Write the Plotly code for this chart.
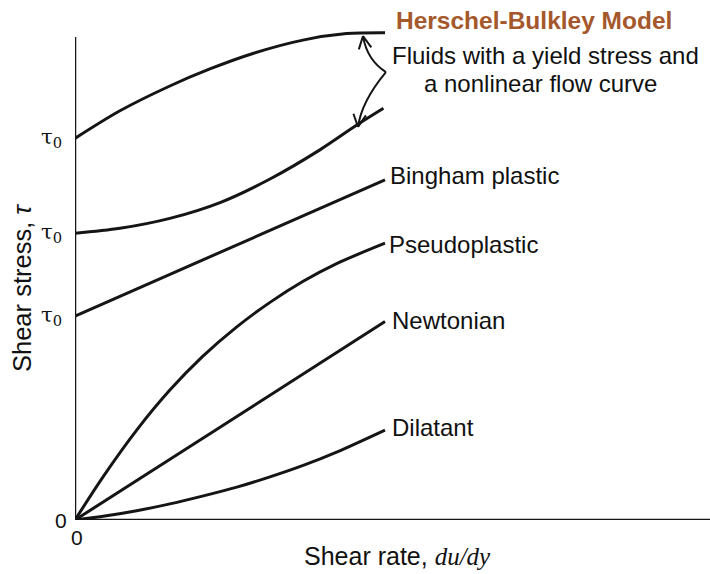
import numpy as np
import plotly.graph_objects as go

# ---- data (arbitrary units: shear rate on x, shear stress on y) ----
hb_upper_x = [0, 1.45, 3.06, 4.35, 5.74, 7.35, 8.76, 10.0]
hb_upper_y = [12.31, 13.20, 14.00, 14.55, 15.05, 15.48, 15.69, 15.72]

hb_lower_x = [0, 1.45, 3.06, 4.68, 6.29, 7.90, 9.09, 9.95]
hb_lower_y = [9.25, 9.41, 9.73, 10.24, 11.00, 11.94, 12.74, 13.28]

bingham_x = [0, 10]
bingham_y = [6.58, 10.97]

pseudo_x = [0, 0.91, 1.99, 3.06, 4.11, 5.22, 6.29, 7.36, 8.44, 10.0]
pseudo_y = [0, 1.40, 2.90, 4.19, 5.27, 6.23, 7.02, 7.70, 8.27, 8.93]

newton_x = [0, 10]
newton_y = [0, 6.40]

dilatant_x = [0, 0.91, 1.99, 3.06, 4.11, 5.22, 6.29, 7.36, 8.44, 10.0]
dilatant_y = [0, 0.12, 0.30, 0.52, 0.77, 1.06, 1.39, 1.76, 2.19, 2.90]

curve_labels = ["Bingham plastic", "Pseudoplastic", "Newtonian", "Dilatant"]
label_x = [10.1, 10.05, 10.15, 10.15]
label_y = [11.1, 8.9, 6.45, 3.0]

tau0_y = [12.31, 9.25, 6.58]

X_MAX = 635 / 31
Y_MAX = 520 / 31
Y_AXIS_TOP = 15.58

# arrow bracket (apex, control, tip) in data units
apex = (10.03, 14.45)
arm_up = ((9.42, 14.84), (9.29, 15.61))
arm_dn = ((9.24, 13.50), (9.13, 12.68))

LINE = "#151515"
fig = go.Figure()

def curve(x, y, shape="spline"):
    fig.add_trace(go.Scatter(x=x, y=y, mode="lines",
                             line=dict(color=LINE, width=3, shape=shape, smoothing=0.9),
                             hoverinfo="skip", showlegend=False))

curve(hb_upper_x, hb_upper_y)
curve(hb_lower_x, hb_lower_y)
curve(bingham_x, bingham_y, "linear")
curve(pseudo_x, pseudo_y)
curve(newton_x, newton_y, "linear")
curve(dilatant_x, dilatant_y)

shapes = [
    dict(type="line", x0=0, y0=0, x1=0, y1=Y_AXIS_TOP, line=dict(color=LINE, width=2.5)),
    dict(type="line", x0=0, y0=0, x1=X_MAX, y1=0, line=dict(color=LINE, width=2.5)),
]

def arm(p0, c, p1):
    path = f"M {p0[0]},{p0[1]} Q {c[0]},{c[1]} {p1[0]},{p1[1]}"
    shapes.append(dict(type="path", path=path, line=dict(color=LINE, width=2)))
    d = np.array([p1[0] - c[0], p1[1] - c[1]])
    d = d / np.linalg.norm(d)
    L = 0.45
    for ang in (np.radians(27), -np.radians(27)):
        rot = np.array([[np.cos(ang), -np.sin(ang)], [np.sin(ang), np.cos(ang)]])
        b = -rot @ d * L
        shapes.append(dict(type="line", x0=p1[0], y0=p1[1], x1=p1[0] + b[0], y1=p1[1] + b[1],
                           line=dict(color=LINE, width=2)))

arm(apex, arm_up[0], arm_up[1])
arm(apex, arm_dn[0], arm_dn[1])

# pixel -> paper helpers for text outside the plotting area
L_M, T_M, W_P, H_P = 75, 0, 635, 520
def px(x):
    return (x - L_M) / W_P
def py(y):
    return (T_M + H_P - y) / H_P

annotations = []
FONT = "Liberation Sans, Arial, sans-serif"
for t, x, y in zip(curve_labels, label_x, label_y):
    annotations.append(dict(x=x, y=y, text=t, showarrow=False, xanchor="left", yanchor="middle",
                            font=dict(family=FONT, size=24, color="#111")))

for y in tau0_y:
    annotations.append(dict(x=px(64), xref="paper", y=y, text="τ<sub>0</sub>", showarrow=False,
                            xanchor="right", yanchor="middle",
                            font=dict(family="DejaVu Serif, serif", size=21, color="#111")))

annotations += [
    dict(x=px(69), y=py(520), xref="paper", yref="paper", text="0", showarrow=False,
         xanchor="right", yanchor="middle", font=dict(family=FONT, size=21, color="#111")),
    dict(x=px(77), y=py(537), xref="paper", yref="paper", text="0", showarrow=False,
         xanchor="center", yanchor="middle", font=dict(family=FONT, size=21, color="#111")),
    dict(x=px(534), y=py(21), xref="paper", yref="paper", text="<b>Herschel-Bulkley Model</b>",
         showarrow=False, xanchor="center", yanchor="middle",
         font=dict(family=FONT, size=24.5, color="#A5582B")),
    dict(x=px(545), y=py(56), xref="paper", yref="paper", text="Fluids with a yield stress and",
         showarrow=False, xanchor="center", yanchor="middle", font=dict(family=FONT, size=24, color="#111")),
    dict(x=px(540), y=py(84), xref="paper", yref="paper", text="a nonlinear flow curve",
         showarrow=False, xanchor="center", yanchor="middle", font=dict(family=FONT, size=24, color="#111")),
    dict(x=px(397), y=py(556), xref="paper", yref="paper",
         text="Shear rate, <i><span style='font-family:Liberation Serif, serif'>du/dy</span></i>",
         showarrow=False, xanchor="center", yanchor="middle", font=dict(family=FONT, size=25, color="#111")),
    dict(x=px(22), y=py(288), xref="paper", yref="paper", text="Shear stress, <i>τ</i>", textangle=-90,
         showarrow=False, xanchor="center", yanchor="middle", font=dict(family=FONT, size=25.5, color="#111")),
]

fig.update_layout(
    width=710, height=574,
    margin=dict(l=L_M, r=0, t=T_M, b=54, pad=0),
    paper_bgcolor="white", plot_bgcolor="white",
    xaxis=dict(range=[0, X_MAX], visible=False, fixedrange=True),
    yaxis=dict(range=[0, Y_MAX], visible=False, fixedrange=True),
    shapes=shapes, annotations=annotations, showlegend=False,
)

fig.write_html("out.html", config={"displayModeBar": False},
               post_script="document.body.style.margin='0px';document.body.style.overflow='hidden';")
